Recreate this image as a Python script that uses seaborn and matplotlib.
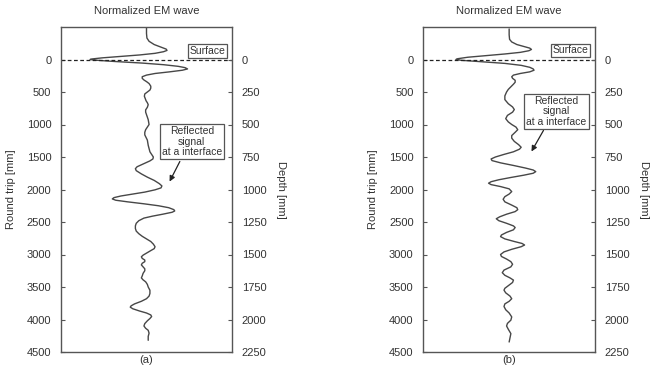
import matplotlib
matplotlib.use("Agg")
import matplotlib.pyplot as plt
import seaborn as sns
import pandas as pd

sns.set_style("white")
plt.rcParams['font.family'] = ['Liberation Sans', 'DejaVu Sans']

# Panel (a): round-trip distance [mm] and normalized amplitude
depth_a = [-490, -400, -330, -280, -230, -190, -160, -140, -120, -95, -70, -45, -25,
           -8, 0, 10, 30, 55, 80, 105, 125, 145, 165, 190, 215, 240, 265, 290, 315,
           340, 370, 410, 440, 470, 500, 530, 565, 600, 635, 665, 695, 735, 775, 810,
           850, 890, 925, 965, 1000, 1040, 1080, 1120, 1160, 1200, 1240, 1280, 1320,
           1370, 1420, 1460, 1500, 1530, 1560, 1590, 1620, 1650, 1680, 1710, 1760,
           1810, 1860, 1910, 1945, 1975, 2005, 2040, 2070, 2100, 2125, 2145, 2165,
           2190, 2220, 2250, 2280, 2310, 2330, 2350, 2380, 2410, 2440, 2480, 2520,
           2560, 2600, 2640, 2680, 2720, 2760, 2800, 2840, 2880, 2910, 2940, 2980,
           3010, 3035, 3060, 3085, 3110, 3135, 3160, 3190, 3220, 3250, 3290, 3330,
           3360, 3390, 3420, 3460, 3500, 3550, 3600, 3640, 3680, 3720, 3760, 3790,
           3810, 3835, 3870, 3900, 3930, 3955, 3985, 4020, 4063, 4100, 4135, 4166,
           4210, 4260, 4320]
amp_a = [0.00, 0.00, 0.005, 0.03, 0.09, 0.17, 0.23, 0.24, 0.20, 0.10, -0.08, -0.32,
         -0.52, -0.64, -0.66, -0.60, -0.38, -0.05, 0.20, 0.37, 0.45, 0.48, 0.42, 0.27,
         0.10, 0.00, -0.05, -0.05, -0.03, 0.00, 0.03, 0.05, 0.05, 0.04, 0.01, -0.02,
         -0.025, -0.015, -0.005, 0.01, 0.02, 0.01, -0.01, -0.01, 0.00, 0.01, 0.02,
         0.025, 0.03, 0.01, -0.01, -0.02, -0.02, -0.005, 0.01, 0.015, 0.02, 0.03, 0.04,
         0.06, 0.08, 0.075, 0.04, -0.01, -0.06, -0.11, -0.13, -0.12, -0.06, 0.01, 0.09,
         0.15, 0.18, 0.17, 0.10, -0.02, -0.16, -0.30, -0.38, -0.40, -0.36, -0.22,
         -0.03, 0.14, 0.26, 0.32, 0.33, 0.30, 0.19, 0.07, -0.03, -0.09, -0.12, -0.13,
         -0.13, -0.12, -0.09, -0.05, 0.00, 0.05, 0.08, 0.10, 0.09, 0.05, 0.00, -0.04,
         -0.06, -0.05, -0.02, -0.02, -0.05, -0.06, -0.04, -0.02, -0.02, -0.04, -0.05,
         -0.06, -0.04, -0.01, 0.01, 0.02, 0.04, 0.04, 0.03, 0.00, -0.06, -0.14, -0.18,
         -0.19, -0.16, -0.08, 0.00, 0.05, 0.06, 0.04, 0.01, -0.02, -0.03, -0.01, 0.02,
         0.03, 0.02, 0.02]

# Panel (b)
depth_b = [-470, -380, -310, -270, -230, -200, -175, -155, -135, -110, -85, -60, -35,
           -12, 0, 12, 35, 60, 90, 120, 145, 165, 190, 215, 240, 265, 290, 320, 350,
           380, 420, 460, 500, 560, 617, 680, 730, 770, 810, 860, 910, 960, 1000, 1040,
           1080, 1120, 1170, 1210, 1260, 1310, 1350, 1380, 1420, 1460, 1500, 1530,
           1555, 1590, 1630, 1670, 1700, 1725, 1750, 1780, 1815, 1850, 1880, 1903,
           1925, 1955, 1990, 2032, 2070, 2110, 2150, 2190, 2240, 2280, 2310, 2340,
           2380, 2420, 2450, 2480, 2520, 2560, 2585, 2620, 2660, 2700, 2725, 2760,
           2800, 2830, 2854, 2880, 2920, 2960, 3000, 3030, 3070, 3110, 3150, 3190,
           3240, 3280, 3320, 3360, 3394, 3430, 3480, 3520, 3549, 3590, 3640, 3680,
           3720, 3760, 3800, 3850, 3900, 3960, 4010, 4060, 4100, 4150, 4217, 4280, 4346]
amp_b = [0.00, 0.00, 0.005, 0.03, 0.09, 0.17, 0.24, 0.26, 0.23, 0.13, -0.05, -0.27,
         -0.48, -0.60, -0.62, -0.56, -0.32, -0.05, 0.14, 0.24, 0.28, 0.29, 0.24, 0.13,
         0.05, 0.03, 0.04, 0.07, 0.07, 0.05, 0.02, -0.01, -0.03, -0.05, -0.05, -0.01,
         0.04, 0.06, 0.04, -0.02, -0.04, -0.01, 0.03, 0.08, 0.10, 0.07, 0.03, 0.03,
         0.06, 0.11, 0.14, 0.12, 0.05, -0.06, -0.16, -0.21, -0.20, -0.10, 0.05, 0.19,
         0.28, 0.31, 0.28, 0.17, 0.02, -0.12, -0.21, -0.24, -0.21, -0.10, 0.00, 0.03,
         0.00, -0.05, -0.07, -0.05, 0.03, 0.09, 0.10, 0.07, -0.03, -0.11, -0.15, -0.12,
         -0.03, 0.05, 0.07, 0.05, -0.03, -0.09, -0.10, -0.05, 0.06, 0.15, 0.18, 0.14,
         0.03, -0.06, -0.10, -0.09, -0.03, 0.02, 0.04, 0.02, -0.06, -0.08, -0.05, 0.01,
         0.05, 0.04, -0.01, -0.05, -0.06, -0.04, 0.01, 0.03, 0.00, -0.05, -0.06, -0.04,
         0.00, 0.03, 0.02, -0.02, -0.03, -0.01, 0.02, 0.01, 0.00]

roundtrip_ticks = [0, 500, 1000, 1500, 2000, 2500, 3000, 3500, 4000, 4500]
depth_ticks = [0, 250, 500, 750, 1000, 1250, 1500, 1750, 2000, 2250]

title_text = "Normalized EM wave"
left_label = "Round trip [mm]"
right_label = "Depth [mm]"
surface_text = "Surface"
reflect_text = "Reflected\nsignal\nat a interface"
panel_labels = ["(a)", "(b)"]

# annotation positions (amplitude, round-trip)
reflect_box = [(0.53, 1265), (0.55, 798)]
reflect_tip = [(0.27, 1878), (0.26, 1415)]
reflect_start = [(0.39, 1569), (0.40, 1091)]
surface_pos = [(0.71, -131), (0.71, -139)]

fig = plt.figure(figsize=(6.53, 3.73), dpi=100)
W, H = 653, 373
axes_px = [(61, 232), (423.3, 595)]
top_px, bot_px = 27, 352

spine_col = "#555555"
line_col = "#474747"
fs = 8

datasets = [(depth_a, amp_a), (depth_b, amp_b)]
for i, (l, r) in enumerate(axes_px):
    ax = fig.add_axes([l / W, 1 - bot_px / H, (r - l) / W, (bot_px - top_px) / H])
    d, a = datasets[i]
    df = pd.DataFrame({"amp": a, "depth": d})
    sns.lineplot(data=df, x="amp", y="depth", sort=False, estimator=None,
                 orient="y", ax=ax, color=line_col, lw=1.0)
    ax.set_xlim(-1, 1)
    ax.set_ylim(4500, -500)
    ax.set_xticks([])
    ax.set_yticks(roundtrip_ticks)
    ax.set_yticklabels([str(t) for t in roundtrip_ticks], fontsize=fs, color="#333333")
    ax.tick_params(axis="y", direction="in", length=3, width=0.8, color=spine_col, pad=7)
    ax.set_xlabel("")
    ax.set_ylabel(left_label, fontsize=fs, color="#333333", labelpad=8)
    ax.set_title(title_text, fontsize=fs, color="#333333", pad=9)
    for s in ax.spines.values():
        s.set_color(spine_col)
        s.set_linewidth(1.0)
    ax.axhline(0, color="#222222", lw=0.9, ls=(0, (3, 2)))

    ax2 = ax.twinx()
    ax2.set_ylim(2250, -250)
    ax2.set_yticks(depth_ticks)
    ax2.set_yticklabels([str(t) for t in depth_ticks], fontsize=fs, color="#333333")
    ax2.tick_params(axis="y", direction="in", length=3, width=0.8, color=spine_col, pad=7)
    ax2.set_ylabel(right_label, fontsize=fs, color="#333333", rotation=-90, labelpad=14)
    for s in ax2.spines.values():
        s.set_visible(False)

    ax.text(surface_pos[i][0], surface_pos[i][1], surface_text, fontsize=7.5,
            ha="center", va="center", color="#333333",
            bbox=dict(boxstyle="square,pad=0.15", fc="white", ec=spine_col, lw=0.9))
    ax.annotate("", xy=reflect_tip[i], xytext=reflect_start[i],
                arrowprops=dict(arrowstyle="-|>", color="#222222", lw=0.9,
                                mutation_scale=8, shrinkA=0, shrinkB=0))
    ax.text(reflect_box[i][0], reflect_box[i][1], reflect_text, fontsize=7.5,
            ha="center", va="center", color="#333333", linespacing=1.05,
            bbox=dict(boxstyle="square,pad=0.2", fc="white", ec=spine_col, lw=0.9))

    fig.text(((l + r) / 2) / W, 1 - 355 / H, panel_labels[i], fontsize=fs,
             ha="center", va="top", color="#333333")

fig.savefig("out.png", dpi=100)
